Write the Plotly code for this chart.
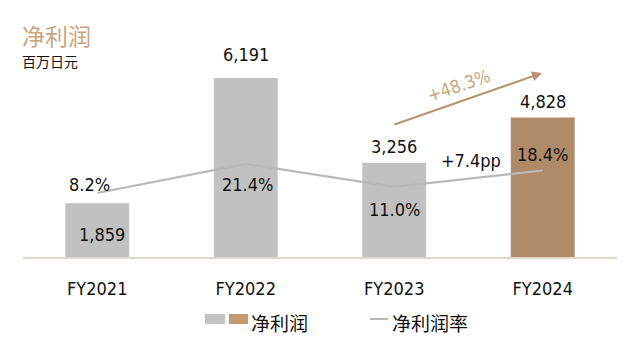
import plotly.graph_objects as go

categories = ["FY2021", "FY2022", "FY2023", "FY2024"]
net_profit = [1859, 6191, 3256, 4828]
net_margin = [8.2, 21.4, 11.0, 18.4]
profit_labels = ["1,859", "6,191", "3,256", "4,828"]
margin_labels = ["8.2%", "21.4%", "11.0%", "18.4%"]

W, H = 635, 359
L, R, T, B = 23, 18, 40, 102
PW, PH = W - L - R, H - T - B

def px(x):
    return (x - L) / PW

def py(y):
    return (H - B - y) / PH

GREY = "#c0c1c0"
BROWN = "#ae8a68"
TAN = "#c9a47e"
NUM_FONT = "Liberation Sans Narrow, DejaVu Sans Condensed, Roboto"
CJK = "Noto Sans CJK SC"

bar_colors = [GREY, GREY, GREY, BROWN]

fig = go.Figure()
fig.add_trace(go.Bar(x=categories, y=net_profit, marker=dict(color=bar_colors, line=dict(width=0)),
                     width=0.43, showlegend=False, hoverinfo="skip"))
fig.add_trace(go.Scatter(x=categories, y=net_margin, mode="lines", yaxis="y2",
                         line=dict(color="#b8b8b8", width=2.2), showlegend=False, hoverinfo="skip"))

ann = []
# bar value labels: (yshift, xshift)
pshift = [(-31, 5), (23, 0), (16, 0), (16, 0)]
for c, v, t, (ys, xs) in zip(categories, net_profit, profit_labels, pshift):
    ann.append(dict(x=c, y=v, xref="x", yref="y", text=t, showarrow=False,
                    xanchor="center", yanchor="middle",
                    yshift=ys, xshift=xs, font=dict(family=NUM_FONT, size=18, color="#111")))
mshift = [(8, -8), (-21, 2), (-23, 0), (16, 0)]
for c, v, t, (ys, xs) in zip(categories, net_margin, margin_labels, mshift):
    ann.append(dict(x=c, y=v, xref="x", yref="y2", text=t, showarrow=False,
                    xanchor="center", yanchor="middle",
                    yshift=ys, xshift=xs, font=dict(family=NUM_FONT, size=18, color="#111")))

# growth annotations
ann.append(dict(x=px(542), y=py(73), xref="paper", yref="paper", ax=393 - 542, ay=125 - 73,
                axref="pixel", ayref="pixel", text="", showarrow=True, arrowhead=2,
                arrowsize=1, arrowwidth=2, arrowcolor="#b8936f"))
ann.append(dict(x=px(458), y=py(85), xref="paper", yref="paper", text="+48.3%", showarrow=False,
                xanchor="center", yanchor="middle",
                textangle=-19, font=dict(family=NUM_FONT, size=18, color=TAN)))
ann.append(dict(x=px(471), y=py(160), xref="paper", yref="paper", text="+7.4pp", showarrow=False,
                xanchor="center", yanchor="middle",
                font=dict(family=NUM_FONT, size=18, color="#111")))

# title
ann.append(dict(x=px(20), y=py(35), xref="paper", yref="paper", text="净利润", showarrow=False,
                xanchor="left", yanchor="middle", font=dict(family=CJK, size=23, color=TAN)))
ann.append(dict(x=px(20), y=py(61), xref="paper", yref="paper", text="百万日元", showarrow=False,
                xanchor="left", yanchor="middle", font=dict(family=CJK, size=14, color="#111")))

# legend texts
ann.append(dict(x=px(249), y=py(322), xref="paper", yref="paper", text="净利润", showarrow=False,
                xanchor="left", yanchor="middle", font=dict(family=CJK, size=19, color="#111")))
ann.append(dict(x=px(390), y=py(322), xref="paper", yref="paper", text="净利润率", showarrow=False,
                xanchor="left", yanchor="middle", font=dict(family=CJK, size=19, color="#111")))

shapes = [
    dict(type="rect", xref="paper", yref="paper", x0=px(205), x1=px(225), y0=py(324), y1=py(314),
         fillcolor="#c2c2c2", line=dict(width=0)),
    dict(type="rect", xref="paper", yref="paper", x0=px(229), x1=px(248), y0=py(324), y1=py(314),
         fillcolor="#c49a6c", line=dict(width=0)),
    dict(type="line", xref="paper", yref="paper", x0=px(370), x1=px(388), y0=py(319), y1=py(319),
         line=dict(color="#b8b8b8", width=2)),
]

fig.update_layout(
    width=W, height=H, margin=dict(l=L, r=R, t=T, b=B),
    paper_bgcolor="white", plot_bgcolor="white",
    xaxis=dict(range=[-0.5, 3.5], showgrid=False, zeroline=False, showline=True,
               linecolor="#e2d6c6", linewidth=2, ticks="", ticklabelstandoff=14,
               tickfont=dict(family=NUM_FONT, size=18, color="#111")),
    yaxis=dict(range=[0, 7505], visible=False, showgrid=False, zeroline=False),
    yaxis2=dict(range=[-20.9, 77.7], overlaying="y", visible=False, showgrid=False, zeroline=False),
    annotations=ann, shapes=shapes, showlegend=False,
)

fig.write_html("out.html", config={"displayModeBar": False},
               post_script="document.body.style.margin='0';")
